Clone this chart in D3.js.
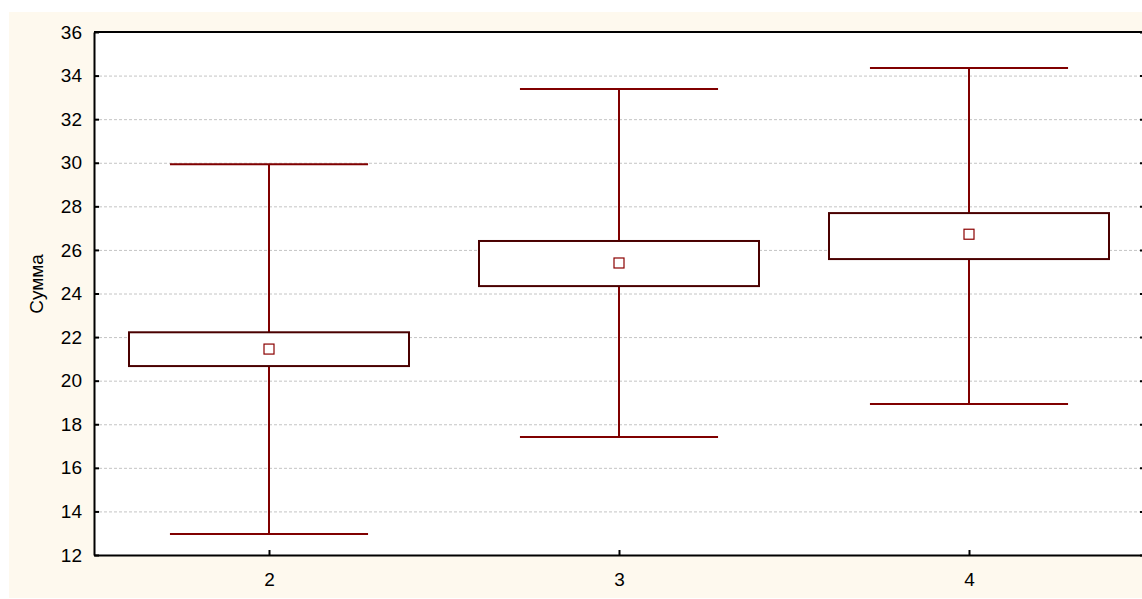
<!DOCTYPE html>
<html><head><meta charset="utf-8">
<script src="https://cdn.jsdelivr.net/npm/d3@7"></script>
<style>
html,body{margin:0;padding:0;background:#fff;}
svg{display:block;font-family:"Liberation Sans",Arial,sans-serif;}
</style></head>
<body>
<script>
const categories = [2, 3, 4];
const whiskerHigh = [29.93, 33.38, 34.35];
const whiskerLow = [12.96, 17.41, 18.93];
const boxHigh = [22.22, 26.41, 27.69];
const boxLow = [20.67, 24.34, 25.58];
const means = [21.45, 25.40, 26.72];
const yTicks = [12, 14, 16, 18, 20, 22, 24, 26, 28, 30, 32, 34, 36];
const yLabel = "Сумма";

(function () {
const W = 1142, H = 599;
const FS = "19px";
const svg = d3.select("body").append("svg").attr("width", W).attr("height", H);

svg.append("rect").attr("x", 9).attr("y", 12).attr("width", W - 9).attr("height", 586).attr("fill", "#fef9ee");

const pLeft = 94, pTop = 32, pBottom = 555, pRight = 1144;
const x = d3.scaleLinear().domain([1.5, 4.5]).range([pLeft, pRight]);
const y = d3.scaleLinear().domain([12, 36]).range([pBottom, pTop]);

svg.append("rect").attr("x", pLeft).attr("y", pTop).attr("width", pRight - pLeft).attr("height", pBottom - pTop).attr("fill", "#fff");

// gridlines
svg.append("g").selectAll("line").data(yTicks.filter(t => t > 12 && t < 36)).join("line")
  .attr("x1", pLeft).attr("x2", pRight).attr("y1", d => y(d) + 0.5).attr("y2", d => y(d) + 0.5)
  .attr("stroke", "#c4c4c4").attr("stroke-width", 1).attr("stroke-dasharray", "3,2");

const data = categories.map((c, i) => ({c, wh: whiskerHigh[i], wl: whiskerLow[i], bh: boxHigh[i], bl: boxLow[i], m: means[i]}));
const capHalf = x(1.5 + 0.283) - x(1.5);
const boxHalf = x(1.5 + 0.4) - x(1.5);
const wc = "#800000";

const g = svg.append("g").selectAll("g").data(data).join("g");
g.append("line").attr("x1", d => x(d.c)).attr("x2", d => x(d.c)).attr("y1", d => y(d.wh)).attr("y2", d => y(d.wl)).attr("stroke", wc).attr("stroke-width", 2);
g.append("line").attr("x1", d => x(d.c) - capHalf).attr("x2", d => x(d.c) + capHalf).attr("y1", d => y(d.wh)).attr("y2", d => y(d.wh)).attr("stroke", wc).attr("stroke-width", 2);
g.append("line").attr("x1", d => x(d.c) - capHalf).attr("x2", d => x(d.c) + capHalf).attr("y1", d => y(d.wl)).attr("y2", d => y(d.wl)).attr("stroke", wc).attr("stroke-width", 2);
g.append("rect").attr("x", d => x(d.c) - boxHalf).attr("width", 2 * boxHalf)
  .attr("y", d => y(d.bh)).attr("height", d => y(d.bl) - y(d.bh))
  .attr("fill", "#fff").attr("stroke", "#4a0000").attr("stroke-width", 2);
g.append("rect").attr("x", d => x(d.c) - 5).attr("y", d => y(d.m) - 5).attr("width", 10).attr("height", 10)
  .attr("fill", "#fff").attr("stroke", "#8b0000").attr("stroke-width", 1.2);

// frame top
svg.append("line").attr("x1", pLeft).attr("x2", W).attr("y1", pTop).attr("y2", pTop).attr("stroke", "#000").attr("stroke-width", 2);

// axes
const yAxis = d3.axisLeft(y).tickValues(yTicks).tickSize(-5).tickSizeOuter(0).tickPadding(12);
const ya = svg.append("g").attr("transform", `translate(${pLeft},0)`).call(yAxis);
ya.attr("font-size", null).attr("font-family", null);
ya.select(".domain").attr("stroke", "#000").attr("stroke-width", 2);
ya.selectAll(".tick line").attr("stroke", "#000").attr("stroke-width", 2);
ya.selectAll("text").style("font-size", FS).attr("fill", "#000").style("font-family", "'Liberation Sans', Arial, sans-serif");

const yAxisR = d3.axisRight(y).tickValues(yTicks).tickSize(-4).tickSizeOuter(0).tickFormat("");
const yr = svg.append("g").attr("transform", `translate(${pRight},0)`).call(yAxisR);
yr.select(".domain").attr("stroke", "#000").attr("stroke-width", 2);
yr.selectAll(".tick line").attr("stroke", "#000").attr("stroke-width", 2);

const xAxis = d3.axisBottom(x).tickValues(categories).tickSize(-5).tickSizeOuter(0).tickPadding(18).tickFormat(d3.format("d"));
const xa = svg.append("g").attr("transform", `translate(0,${pBottom})`).call(xAxis);
xa.attr("font-size", null).attr("font-family", null);
xa.select(".domain").attr("stroke", "#000").attr("stroke-width", 2);
xa.selectAll(".tick line").attr("stroke", "#000").attr("stroke-width", 2);
xa.selectAll("text").style("font-size", FS).attr("fill", "#000").style("font-family", "'Liberation Sans', Arial, sans-serif");

svg.append("text").attr("transform", `translate(43,284) rotate(-90)`)
  .attr("text-anchor", "middle").style("font-size", FS).attr("fill", "#000").text(yLabel);
})();
</script>
</body></html>
